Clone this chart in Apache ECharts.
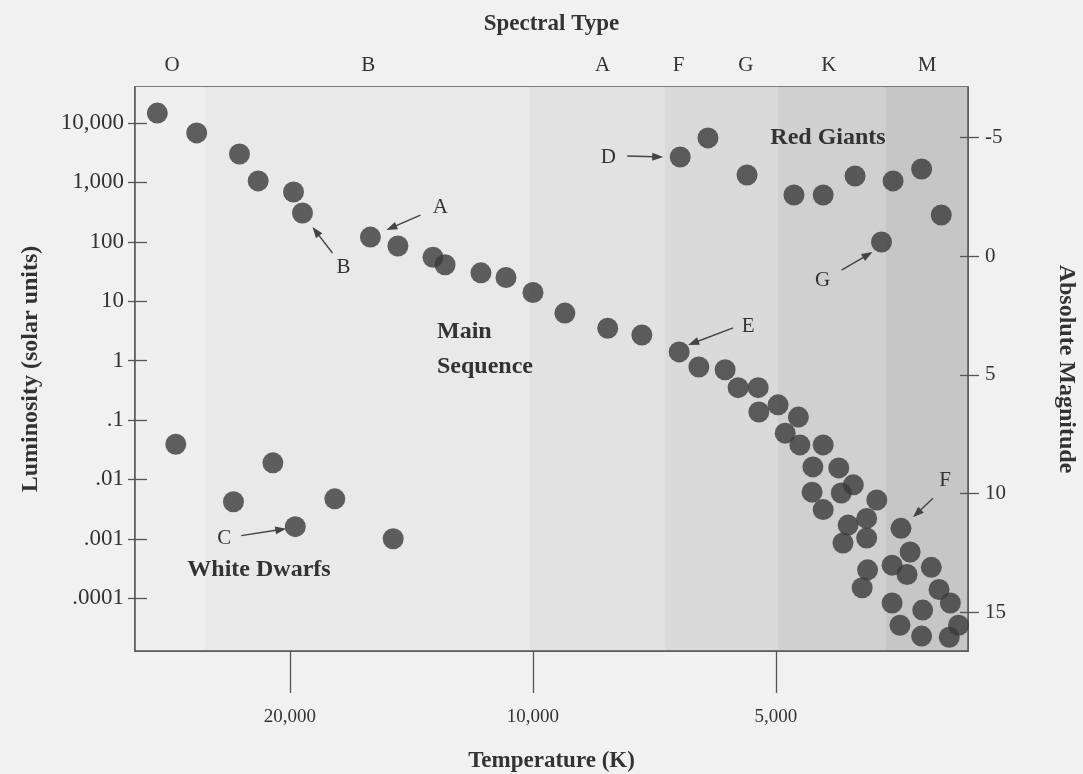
<!DOCTYPE html>
<html><head><meta charset="utf-8">
<script src="https://cdn.jsdelivr.net/npm/echarts@6/dist/echarts.min.js"></script>
<style>html,body{margin:0;padding:0;background:#f1f1f1}#c{width:1083px;height:774px}</style>
</head><body><div id="c"></div>
<script>
// ---------------- DATA ----------------
const mainSeqTemp = [29200, 26100, 23100, 21900, 19800, 19300, 15900, 14700, 13300, 12850, 11600, 10800, 10000, 9130, 8080, 7330, 6590, 6230, 5780, 5570, 5260, 5250, 4970, 4690, 4870, 4670, 4370, 4500, 4180, 4010, 4510, 4150, 3750, 4370, 4070, 3860, 4130, 3860, 3500, 3410, 3850, 3590, 3440, 3210, 3910, 3140, 3040, 3590, 3290, 2970, 3510, 3300, 3050];
const mainSeqLum = [14700, 6800, 3000, 1060, 690, 305, 120, 85, 55, 41, 30, 25, 14, 6.3, 3.5, 2.7, 1.4, 0.78, 0.70, 0.35, 0.35, 0.136, 0.18, 0.112, 0.060, 0.038, 0.038, 0.0162, 0.0156, 0.0081, 0.0061, 0.0059, 0.0045, 0.0031, 0.0017, 0.0022, 0.00085, 0.00103, 0.0015, 0.0006, 0.0003, 0.00036, 0.00025, 0.00033, 0.00015, 0.00014, 0.000083, 0.000083, 0.000063, 0.000035, 0.000035, 0.000023, 0.000022];
const giantTemp = [6570, 6070, 5430, 4750, 4370, 3990, 3580, 3300, 3120, 3700];
const giantLum = [2680, 5600, 1330, 614, 614, 1280, 1060, 1680, 283, 99];
const dwarfTemp = [27700, 21000, 23500, 17600, 19700, 14900];
const dwarfLum = [0.039, 0.019, 0.0042, 0.0047, 0.0016, 0.0010];

const lumTicks = [10000, 1000, 100, 10, 1, 0.1, 0.01, 0.001, 0.0001];
const lumTickLabels = ['10,000', '1,000', '100', '10', '1', '.1', '.01', '.001', '.0001'];
const tempTicks = [20000, 10000, 5000];
const tempTickLabels = ['20,000', '10,000', '5,000'];
const magTicks = [-5, 0, 5, 10, 15];
const spectralTypes = ['O', 'B', 'A', 'F', 'G', 'K', 'M'];
const spectralTemps = [28000, 16000, 8200, 6600, 5450, 4300, 3250];
const bandBounds = [31120, 25500, 10100, 6860, 4970, 3660, 2891];

const starLabels = ['A', 'B', 'C', 'D', 'E', 'F', 'G'];
const starGroups = ['main', 'main', 'dwarf', 'giant', 'main', 'main', 'giant'];
const starIndex = [6, 5, 4, 0, 16, 38, 9];

// ---------------- STYLE / LAYOUT ----------------
const TMIN = 2891, TMAX = 31120, LMIN = 1.29e-5, LMAX = 40360;
const MAG0 = 4.4;
const magMin = MAG0 - 2.5 * Math.log10(LMAX), magMax = MAG0 - 2.5 * Math.log10(LMIN);
const bandColors = ['#efefef', '#e9e9e9', '#e2e2e2', '#dadada', '#d0d0d0', '#c6c6c6'];
const SERIF = '"Liberation Serif", "DejaVu Serif", serif';
const TXT = '#333';
const AX = '#555';
const arrowLayout = {
  A: {tip: [16, -7], tail: [50, -22], text: [70, -30]},
  B: {tip: [10, 14], tail: [30, 40], text: [41, 54]},
  C: {tip: [-9, 2], tail: [-54, 9], text: [-71, 12]},
  D: {tip: [-17, 0], tail: [-53, -1], text: [-72, 1]},
  E: {tip: [9, -7], tail: [54, -24], text: [69, -25]},
  F: {tip: [12, -11], tail: [32, -30], text: [44, -48]},
  G: {tip: [-9, 10], tail: [-40, 28], text: [-59, 38]}
};

function nearestLabel(v, ticks, labels) {
  for (let i = 0; i < ticks.length; i++) {
    if (Math.abs(Math.log10(Math.abs(v)) - Math.log10(Math.abs(ticks[i]))) < 1e-6) return labels[i];
  }
  return '';
}
const zip = (a, b) => a.map((v, i) => [v, b[i]]);

const chart = echarts.init(document.getElementById('c'), null, {renderer: 'canvas'});
const dotStyle = {color: '#3a3a3a'};
const tickLine = {color: AX, width: 1.3};
const option = {
  backgroundColor: '#f1f1f1',
  animation: false,
  grid: {left: 135, right: 115, top: 87, bottom: 123, show: true, borderColor: AX, borderWidth: 1.5, backgroundColor: 'transparent', outerBoundsMode: 'none', containLabel: false},
  xAxis: [
    {
      type: 'log', position: 'bottom', inverse: true, min: TMIN, max: TMAX, z: 10,
      name: 'Temperature (K)', nameLocation: 'middle', nameGap: 99,
      nameTextStyle: {fontFamily: SERIF, fontWeight: 'bold', fontSize: 23, color: TXT},
      axisLine: {show: true, onZero: false, lineStyle: {color: AX, width: 1.5}},
      axisTick: {show: true, inside: false, length: 42, customValues: tempTicks, lineStyle: tickLine},
      axisLabel: {show: true, customValues: tempTicks, margin: 57, fontFamily: SERIF, fontSize: 19, color: TXT,
        formatter: v => nearestLabel(v, tempTicks, tempTickLabels)},
      splitLine: {show: false}, minorTick: {show: false}
    },
    {
      type: 'log', position: 'top', inverse: true, min: TMIN, max: TMAX, z: 10,
      name: 'Spectral Type', nameLocation: 'middle', nameGap: 51,
      nameTextStyle: {fontFamily: SERIF, fontWeight: 'bold', fontSize: 23, color: TXT},
      axisLine: {show: false, onZero: false}, axisTick: {show: false},
      axisLabel: {show: true, customValues: spectralTemps, margin: 11, fontFamily: SERIF, fontSize: 21, color: TXT,
        formatter: v => nearestLabel(v, spectralTemps, spectralTypes)},
      splitLine: {show: false}
    }
  ],
  yAxis: [
    {
      type: 'log', position: 'left', min: LMIN, max: LMAX, z: 10,
      name: 'Luminosity (solar units)', nameLocation: 'middle', nameGap: 92, nameRotate: 90,
      nameTextStyle: {fontFamily: SERIF, fontWeight: 'bold', fontSize: 24, color: TXT},
      axisLine: {show: true, onZero: false, lineStyle: {color: AX, width: 1.5}},
      axisTick: {show: true, inside: false, length: 7, customValues: lumTicks, lineStyle: tickLine},
      axisLabel: {show: true, customValues: lumTicks, margin: 11, fontFamily: SERIF, fontSize: 23, color: TXT,
        formatter: v => nearestLabel(v, lumTicks, lumTickLabels)},
      splitLine: {show: false}
    },
    {
      type: 'log', position: 'left', min: LMIN, max: LMAX, z: 10,
      axisLine: {show: false, onZero: false},
      axisTick: {show: true, inside: true, length: 12, customValues: lumTicks, lineStyle: tickLine},
      axisLabel: {show: false}, splitLine: {show: false}
    },
    {
      type: 'value', position: 'right', inverse: true, min: magMin, max: magMax, z: 10,
      name: 'Absolute Magnitude', nameLocation: 'middle', nameGap: 86, nameRotate: -90,
      nameTextStyle: {fontFamily: SERIF, fontWeight: 'bold', fontSize: 24, color: TXT},
      axisLine: {show: true, onZero: false, lineStyle: {color: AX, width: 1.5}},
      axisTick: {show: true, inside: false, length: 11, customValues: magTicks, lineStyle: tickLine},
      axisLabel: {show: true, customValues: magTicks, margin: 17, fontFamily: SERIF, fontSize: 21, color: TXT},
      splitLine: {show: false}
    },
    {
      type: 'value', position: 'right', inverse: true, min: magMin, max: magMax, z: 10,
      axisLine: {show: false, onZero: false},
      axisTick: {show: true, inside: true, length: 8, customValues: magTicks, lineStyle: tickLine},
      axisLabel: {show: false}, splitLine: {show: false}
    }
  ],
  series: [
    {
      type: 'scatter', xAxisIndex: 0, yAxisIndex: 0, data: [], z: 1, silent: true,
      markArea: {silent: true, data: bandColors.map((c, i) => [
        {xAxis: bandBounds[i], itemStyle: {color: c}}, {xAxis: bandBounds[i + 1]}
      ])}
    },
    {name: 'main', type: 'scatter', xAxisIndex: 0, yAxisIndex: 0, symbolSize: 21, itemStyle: dotStyle, z: 12, data: zip(mainSeqTemp, mainSeqLum)},
    {name: 'giant', type: 'scatter', xAxisIndex: 0, yAxisIndex: 0, symbolSize: 21, itemStyle: dotStyle, z: 12, data: zip(giantTemp, giantLum)},
    {name: 'dwarf', type: 'scatter', xAxisIndex: 0, yAxisIndex: 0, symbolSize: 21, itemStyle: dotStyle, z: 12, data: zip(dwarfTemp, dwarfLum)}
  ]
};
chart.setOption(option);

const groups = {main: [mainSeqTemp, mainSeqLum], giant: [giantTemp, giantLum], dwarf: [dwarfTemp, dwarfLum]};
const graphics = [];
const textStyle = (t, size, bold, align) => ({text: t, font: (bold ? 'bold ' : '') + size + 'px ' + SERIF, fill: TXT, align: align || 'center', verticalAlign: 'middle'});
starLabels.forEach((lab, i) => {
  const g = groups[starGroups[i]];
  const p = chart.convertToPixel({xAxisIndex: 0, yAxisIndex: 0}, [g[0][starIndex[i]], g[1][starIndex[i]]]);
  const L = arrowLayout[lab];
  const tip = [p[0] + L.tip[0], p[1] + L.tip[1]];
  const tail = [p[0] + L.tail[0], p[1] + L.tail[1]];
  const dx = tip[0] - tail[0], dy = tip[1] - tail[1];
  const len = Math.hypot(dx, dy), ux = dx / len, uy = dy / len, nx = -uy, ny = ux;
  const hl = 11, hw = 4;
  const base = [tip[0] - ux * hl, tip[1] - uy * hl];
  graphics.push({type: 'line', z: 20, shape: {x1: tail[0], y1: tail[1], x2: base[0] + ux * 2, y2: base[1] + uy * 2}, style: {stroke: '#444', lineWidth: 1.4}});
  graphics.push({type: 'polygon', z: 20, shape: {points: [tip, [base[0] + nx * hw, base[1] + ny * hw], [base[0] - nx * hw, base[1] - ny * hw]]}, style: {fill: '#444'}});
  graphics.push({type: 'text', z: 20, x: p[0] + L.text[0], y: p[1] + L.text[1], style: textStyle(lab, 21, false)});
});
graphics.push({type: 'text', z: 20, x: 437, y: 332, style: textStyle('Main', 24, true, 'left')});
graphics.push({type: 'text', z: 20, x: 437, y: 367, style: textStyle('Sequence', 24, true, 'left')});
graphics.push({type: 'text', z: 20, x: 828, y: 138, style: textStyle('Red Giants', 24, true)});
graphics.push({type: 'text', z: 20, x: 259, y: 570, style: textStyle('White Dwarfs', 24, true)});
chart.setOption({graphic: graphics});
</script>
</body></html>
